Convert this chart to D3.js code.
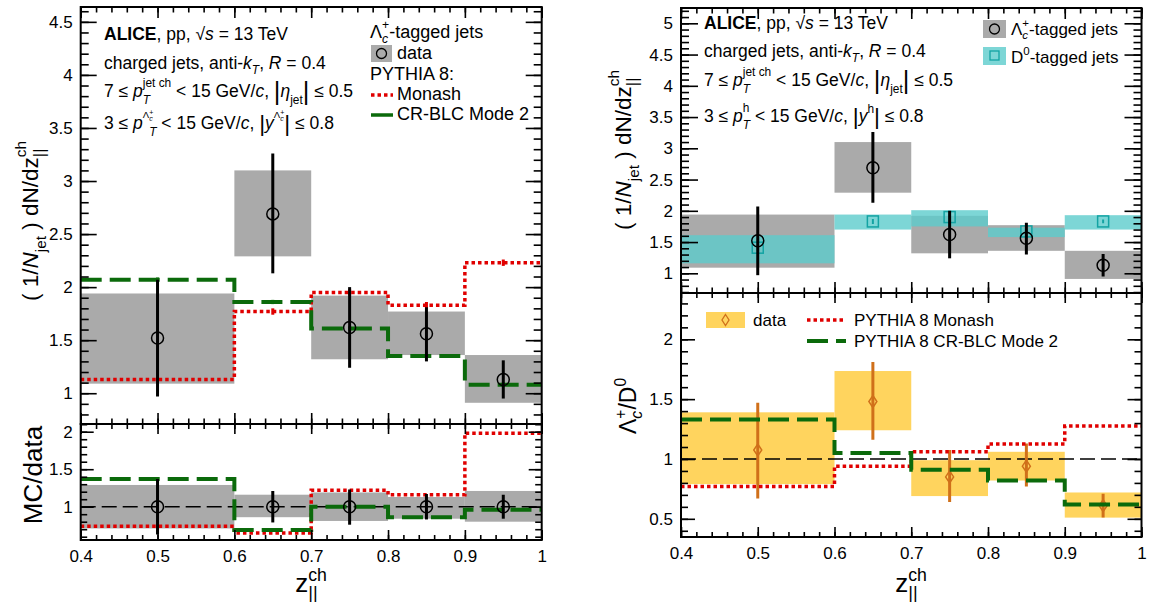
<!DOCTYPE html>
<html><head><meta charset="utf-8">
<script src="https://cdn.jsdelivr.net/npm/d3@7"></script>
<style>
body{margin:0;background:#fff;}
text{font-family:"Liberation Sans",Arial,Helvetica,sans-serif;white-space:pre;}
</style></head>
<body><svg id="c" width="1151" height="602"></svg>
<script>
// ---------------- data ----------------
const binEdges = [0.4, 0.6, 0.7, 0.8, 0.9, 1.0];
const binCenters = [0.5, 0.65, 0.75, 0.85, 0.95];
const xTicks = [0.4, 0.5, 0.6, 0.7, 0.8, 0.9, 1];

// Lambda_c-tagged jets, data
const lcVal    = [1.52, 2.69, 1.62, 1.56, 1.13];
const lcStatLo = [0.97, 2.13, 1.24, 1.30, 0.95];
const lcStatHi = [2.07, 3.26, 2.00, 1.81, 1.31];
const lcSysLo  = [1.09, 2.29, 1.32, 1.36, 0.91];
const lcSysHi  = [1.94, 3.10, 1.92, 1.77, 1.36];
// PYTHIA 8
const monash    = [1.13, 1.77, 1.95, 1.83, 2.23];
const monashErr = [0.02, 0.03, 0.03, 0.03, 0.03];
const crblc     = [2.07, 1.86, 1.61, 1.35, 1.08];
const crblcErr  = [0.02, 0.02, 0.02, 0.02, 0.02];
// MC/data
const ratioSysLo  = [0.71, 0.86, 0.81, 0.84, 0.80];
const ratioSysHi  = [1.29, 1.16, 1.19, 1.13, 1.21];
const ratioStatLo = [0.63, 0.79, 0.76, 0.83, 0.84];
const ratioStatHi = [1.37, 1.21, 1.23, 1.17, 1.16];
const monashRatio = [0.74, 0.65, 1.22, 1.16, 1.98];
const crblcRatio  = [1.37, 0.69, 1.00, 0.86, 0.96];
// D0-tagged jets
const d0Val    = [1.41, 1.83, 1.90, 1.67, 1.83];
const d0StatLo = [1.36, 1.79, 1.86, 1.63, 1.80];
const d0StatHi = [1.46, 1.87, 1.94, 1.71, 1.86];
const d0SysLo  = [1.16, 1.70, 1.75, 1.58, 1.70];
const d0SysHi  = [1.61, 1.94, 2.01, 1.73, 1.93];
// Lambda_c / D0
const lcd0Val    = [1.075, 1.48, 0.85, 0.94, 0.61];
const lcd0StatLo = [0.67, 1.16, 0.64, 0.77, 0.51];
const lcd0StatHi = [1.47, 1.81, 1.075, 1.13, 0.71];
const lcd0SysLo  = [0.79, 1.24, 0.69, 0.82, 0.51];
const lcd0SysHi  = [1.39, 1.735, 0.99, 1.06, 0.72];
const monashLcD0 = [0.77, 0.94, 1.06, 1.125, 1.275];
const crblcLcD0  = [1.33, 1.05, 0.91, 0.82, 0.62];

// tick labels
const yTicksLT = [1, 1.5, 2, 2.5, 3, 3.5, 4, 4.5];
const yTicksLB = [1, 1.5, 2];
const yTicksRT = [1, 1.5, 2, 2.5, 3, 3.5, 4, 4.5, 5];
const yTicksRB = [0.5, 1, 1.5, 2];

// ---------------- style ----------------
const C = {
  gray: "#aaaaaa", teal: "#5ccccc", tealLine: "#13a3a3",
  yellow: "#ffd45e", orange: "#d0701a", red: "#e00000", green: "#0b6a0b"
};
const svg = d3.select("#c");
svg.append("rect").attr("width",1151).attr("height",602).attr("fill","#fff");

// rich text helper
function rich(parent, x, y, segs, size, anchor, rotate) {
  const outer = parent.append("g").attr("transform", `translate(${x},${y})` + (rotate ? ` rotate(${rotate})` : ""));
  const g = outer.append("g");
  let cx = 0, prevX = 0;
  segs.forEach(sg => {
    const sc = sg.scale || ((sg.sup || sg.sub) ? 0.68 : 1);
    const s = size * sc;
    const dy = sg.sup ? -(sg.supShift || 0.45) * size : sg.sub ? (sg.subShift || 0.3) * size : (sg.dy || 0);
    const sx = sg.stack ? prevX : cx;
    const t = g.append("text").attr("x", sx + (sg.dx || 0)).attr("y", dy)
      .style("font-size", s + "px")
      .style("font-style", sg.i ? "italic" : "normal")
      .style("font-weight", sg.b ? "bold" : "normal")
      .attr("fill", "#000").text(sg.t);
    const w = t.node().getComputedTextLength() + (sg.dx || 0);
    if (sg.stack) cx = Math.max(cx, sx + w); else cx = sx + w;
    prevX = sx;
  });
  if (anchor === "middle") g.attr("transform", `translate(${-cx/2},0)`);
  return cx;
}

function panel(o) {
  const x = d3.scaleLinear().domain([0.4, 1]).range([o.x0, o.x1]);
  const y = d3.scaleLinear().domain(o.ydom).range([o.y1, o.y0]);
  const g = svg.append("g");
  const clipId = "clip" + Math.round(o.x0) + Math.round(o.y0);
  svg.append("clipPath").attr("id", clipId).append("rect")
    .attr("x", o.x0).attr("y", o.y0).attr("width", o.x1 - o.x0).attr("height", o.y1 - o.y0);
  const data = g.append("g").attr("clip-path", `url(#${clipId})`);
  const axes = g.append("g");
  const yMinor = d3.range(Math.ceil(o.ydom[0] * 10), Math.floor(o.ydom[1] * 10) + 1).map(d => d / 10);
  const xMinor = d3.range(20, 51).map(d => d / 50);
  const fmt = d3.format("~g");
  function style(sel) {
    sel.select(".domain").remove();
    sel.selectAll("line").attr("stroke", "#000").attr("stroke-width", 1.6);
    sel.selectAll("text").style("font-size", o.fs + "px").attr("fill", "#000")
      .style("font-family", '"Liberation Sans",Arial,sans-serif');
  }
  axes.append("g").attr("transform", `translate(${o.x0},0)`)
    .call(d3.axisLeft(y).tickValues(o.yTicks).tickSizeInner(-o.yl[0]).tickSizeOuter(0).tickPadding(o.ypad).tickFormat(fmt)).call(style);
  axes.append("g").attr("transform", `translate(${o.x0},0)`)
    .call(d3.axisLeft(y).tickValues(yMinor).tickSizeInner(-o.yl[1]).tickSizeOuter(0).tickFormat("")).call(style);
  axes.append("g").attr("transform", `translate(${o.x1},0)`)
    .call(d3.axisRight(y).tickValues(o.yTicks).tickSizeInner(-o.yl[0]).tickSizeOuter(0).tickFormat("")).call(style);
  axes.append("g").attr("transform", `translate(${o.x1},0)`)
    .call(d3.axisRight(y).tickValues(yMinor).tickSizeInner(-o.yl[1]).tickSizeOuter(0).tickFormat("")).call(style);
  axes.append("g").attr("transform", `translate(0,${o.y1})`)
    .call(d3.axisBottom(x).tickValues(xTicks).tickSizeInner(-o.xl[0]).tickSizeOuter(0).tickPadding(o.xpad || 9)
      .tickFormat(o.xLabels ? fmt : "")).call(style);
  axes.append("g").attr("transform", `translate(0,${o.y1})`)
    .call(d3.axisBottom(x).tickValues(xMinor).tickSizeInner(-o.xl[1]).tickSizeOuter(0).tickFormat("")).call(style);
  axes.append("g").attr("transform", `translate(0,${o.y0})`)
    .call(d3.axisTop(x).tickValues(xTicks).tickSizeInner(-o.xl[0]).tickSizeOuter(0).tickFormat("")).call(style);
  axes.append("g").attr("transform", `translate(0,${o.y0})`)
    .call(d3.axisTop(x).tickValues(xMinor).tickSizeInner(-o.xl[1]).tickSizeOuter(0).tickFormat("")).call(style);
  axes.append("rect").attr("x", o.x0).attr("y", o.y0).attr("width", o.x1 - o.x0).attr("height", o.y1 - o.y0)
    .attr("fill", "none").attr("stroke", "#000").attr("stroke-width", 2);
  return {x, y, data, g};
}

function boxes(p, lo, hi, fill, op) {
  p.data.append("g").selectAll("rect").data(lo).join("rect")
    .attr("x", (d, i) => p.x(binEdges[i])).attr("width", (d, i) => p.x(binEdges[i + 1]) - p.x(binEdges[i]))
    .attr("y", (d, i) => p.y(hi[i])).attr("height", (d, i) => p.y(lo[i]) - p.y(hi[i]))
    .attr("fill", fill).attr("opacity", op || 1);
}
function errbars(p, lo, hi, col, w) {
  p.data.append("g").selectAll("line").data(lo).join("line")
    .attr("x1", (d, i) => p.x(binCenters[i])).attr("x2", (d, i) => p.x(binCenters[i]))
    .attr("y1", (d, i) => p.y(lo[i])).attr("y2", (d, i) => p.y(hi[i]))
    .attr("stroke", col).attr("stroke-width", w);
}
function circles(p, v, col) {
  p.data.append("g").selectAll("circle").data(v).join("circle")
    .attr("cx", (d, i) => p.x(binCenters[i])).attr("cy", d => p.y(d)).attr("r", 6)
    .attr("fill", "none").attr("stroke", col).attr("stroke-width", 1.5);
}
function squares(p, v, col) {
  p.data.append("g").selectAll("rect").data(v).join("rect")
    .attr("x", (d, i) => p.x(binCenters[i]) - 5.5).attr("y", d => p.y(d) - 5.5).attr("width", 11).attr("height", 11)
    .attr("fill", "none").attr("stroke", col).attr("stroke-width", 1.5);
}
function diamonds(p, v, col) {
  p.data.append("g").selectAll("path").data(v).join("path")
    .attr("d", (d, i) => { const cx = p.x(binCenters[i]), cy = p.y(d); return `M${cx},${cy-6}L${cx+4},${cy}L${cx},${cy+6}L${cx-4},${cy}Z`; })
    .attr("fill", "none").attr("stroke", col).attr("stroke-width", 1.5);
}
function step(p, v, err, col, w, dash) {
  const pts = [];
  v.forEach((d, i) => { pts.push([binEdges[i], d]); pts.push([binEdges[i + 1], d]); });
  p.data.append("path").datum(pts)
    .attr("d", d3.line().x(d => p.x(d[0])).y(d => p.y(d[1])))
    .attr("fill", "none").attr("stroke", col).attr("stroke-width", w).attr("stroke-dasharray", dash);
  if (err) errbars(p, v.map((d, i) => d - err[i]), v.map((d, i) => d + err[i]), col, 3);
}
function unity(p) {
  p.data.append("line").attr("x1", p.x(0.4)).attr("x2", p.x(1)).attr("y1", p.y(1)).attr("y2", p.y(1))
    .attr("stroke", "#000").attr("stroke-width", 1.5).attr("stroke-dasharray", "15,6");
}

// ---------------- left top ----------------
const LT = panel({x0: 80.7, x1: 541.7, y0: 7, y1: 424, ydom: [0.71, 4.64], yTicks: yTicksLT,
  yl: [16, 8], xl: [11, 5.5], fs: 17, ypad: 8, xLabels: false});
boxes(LT, lcSysLo, lcSysHi, C.gray);
step(LT, monash, monashErr, C.red, 3.5, "3.5,3");
step(LT, crblc, crblcErr, C.green, 4, "21,8");
errbars(LT, lcStatLo, lcStatHi, "#000", 3);
circles(LT, lcVal, "#000");

// ---------------- left bottom ----------------
const LB = panel({x0: 80.7, x1: 541.7, y0: 424, y1: 540, ydom: [0.556, 2.103], yTicks: yTicksLB,
  yl: [13, 6.5], xl: [10, 5], fs: 17, ypad: 8, xLabels: true, xpad: 10});
boxes(LB, ratioSysLo, ratioSysHi, C.gray);
unity(LB);
step(LB, monashRatio, null, C.red, 3.5, "3.5,3");
step(LB, crblcRatio, null, C.green, 4, "21,8");
errbars(LB, ratioStatLo, ratioStatHi, "#000", 3);
circles(LB, lcVal.map(() => 1), "#000");

// ---------------- right top ----------------
const RT = panel({x0: 681, x1: 1141.5, y0: 8, y1: 293, ydom: [0.685, 5.245], yTicks: yTicksRT,
  yl: [17, 8], xl: [11, 5.5], fs: 17, ypad: 8, xLabels: false});
boxes(RT, lcSysLo, lcSysHi, C.gray);
boxes(RT, d0SysLo, d0SysHi, C.teal, 0.8);
errbars(RT, d0StatLo, d0StatHi, C.tealLine, 2);
squares(RT, d0Val, C.tealLine);
errbars(RT, lcStatLo, lcStatHi, "#000", 3);
circles(RT, lcVal, "#000");

// ---------------- right bottom ----------------
const RB = panel({x0: 681, x1: 1141.5, y0: 293, y1: 537, ydom: [0.348, 2.387], yTicks: yTicksRB,
  yl: [14, 7], xl: [10, 5], fs: 17, ypad: 8, xLabels: true, xpad: 10});
boxes(RB, lcd0SysLo, lcd0SysHi, C.yellow);
unity(RB);
errbars(RB, lcd0StatLo, lcd0StatHi, C.orange, 3);
diamonds(RB, lcd0Val, C.orange);
step(RB, monashLcD0, null, C.red, 3.5, "3.5,3");
step(RB, crblcLcD0, null, C.green, 4, "21,8");

// ---------------- texts ----------------
const T = svg.append("g");
const FS = 17.5;
function aliceLine(x, y) {
  rich(T, x, y, [{t: "ALICE", b: 1}, {t: ", pp, "}, {t: "√"}, {t: "s", i: 1}, {t: " = 13 TeV"}], FS);
}
function jetsLine(x, y) {
  rich(T, x, y, [{t: "charged jets, anti-"}, {t: "k", i: 1}, {t: "T", i: 1, sub: 1}, {t: ", "}, {t: "R", i: 1}, {t: " = 0.4"}], FS);
}
function ptLine(x, y) {
  rich(T, x, y, [{t: "7 ≤ "}, {t: "p", i: 1}, {t: "jet ch", sup: 1, supShift: 0.6}, {t: "T", i: 1, sub: 1, stack: 1, subShift: 0.42},
    {t: " < 15 GeV/"}, {t: "c", i: 1}, {t: ", "}, {t: "|", scale: 1.45, dy: 3}, {t: "η", i: 1}, {t: "jet", sub: 1, subShift: 0.4},
    {t: "|", scale: 1.45, dy: 3}, {t: " ≤ 0.5"}], FS);
}
aliceLine(104, 40);
jetsLine(104, 69);
ptLine(104, 97);
rich(T, 104, 129, [{t: "3 ≤ "}, {t: "p", i: 1}, {t: "Λ", sup: 1, scale: 0.55, supShift: 0.62}, {t: "c", i: 1, sup: 1, scale: 0.4, supShift: 0.45},
  {t: "+", sup: 1, scale: 0.4, supShift: 0.8, stack: 1}, {t: "T", i: 1, sub: 1, subShift: 0.42, stack: 1, dx: 0},
  {t: " < 15 GeV/"}, {t: "c", i: 1}, {t: ", "}, {t: "|", scale: 1.3, dy: 2}, {t: "y", i: 1},
  {t: "Λ", sup: 1, scale: 0.55, supShift: 0.62}, {t: "c", i: 1, sup: 1, scale: 0.4, supShift: 0.45}, {t: "+", sup: 1, scale: 0.4, supShift: 0.8, stack: 1},
  {t: "|", scale: 1.3, dy: 2}, {t: " ≤ 0.8"}], FS);

aliceLine(704, 29);
jetsLine(704, 57);
ptLine(704, 86);
rich(T, 704, 122, [{t: "3 ≤ "}, {t: "p", i: 1}, {t: "h", sup: 1, supShift: 0.55}, {t: "T", i: 1, sub: 1, subShift: 0.42, stack: 1},
  {t: " < 15 GeV/"}, {t: "c", i: 1}, {t: ", "}, {t: "|", scale: 1.3, dy: 2}, {t: "y", i: 1}, {t: "h", sup: 1, supShift: 0.5},
  {t: "|", scale: 1.3, dy: 2}, {t: " ≤ 0.8"}], FS);

// left legend
const lcTag = [{t: "Λ"}, {t: "+", sup: 1, supShift: 0.5}, {t: "c", i: 1, sub: 1, stack: 1, subShift: 0.25}, {t: "-tagged jets"}];
rich(T, 370, 38, lcTag, 18);
T.append("rect").attr("x", 371).attr("y", 45).attr("width", 21).attr("height", 17).attr("fill", C.gray);
T.append("circle").attr("cx", 381.5).attr("cy", 53.5).attr("r", 5).attr("fill", "none").attr("stroke", "#000").attr("stroke-width", 1.3);
rich(T, 397, 59, [{t: "data"}], 18);
rich(T, 370, 80, [{t: "PYTHIA 8:"}], 18);
T.append("line").attr("x1", 371).attr("x2", 393).attr("y1", 95).attr("y2", 95).attr("stroke", C.red).attr("stroke-width", 3.5).attr("stroke-dasharray", "3.5,3");
rich(T, 397, 100, [{t: "Monash"}], 18);
T.append("line").attr("x1", 371).attr("x2", 393).attr("y1", 115).attr("y2", 115).attr("stroke", C.green).attr("stroke-width", 3.5);
rich(T, 397, 120, [{t: "CR-BLC Mode 2"}], 18);

// right top legend
T.append("rect").attr("x", 983).attr("y", 20).attr("width", 23).attr("height", 18).attr("fill", C.gray);
T.append("circle").attr("cx", 994.5).attr("cy", 29).attr("r", 5).attr("fill", "none").attr("stroke", "#000").attr("stroke-width", 1.3);
rich(T, 1011, 35, lcTag, 17);
T.append("rect").attr("x", 983).attr("y", 47).attr("width", 23).attr("height", 18).attr("fill", C.teal).attr("opacity", 0.8);
T.append("rect").attr("x", 990).attr("y", 51).attr("width", 9).attr("height", 9).attr("fill", "none").attr("stroke", C.tealLine).attr("stroke-width", 1.3);
rich(T, 1011, 63, [{t: "D"}, {t: "0", sup: 1}, {t: "-tagged jets"}], 17);

// right bottom legend
T.append("rect").attr("x", 706).attr("y", 312).attr("width", 39).attr("height", 16).attr("fill", C.yellow);
T.append("path").attr("d", "M725.5,314.5L729,320L725.5,325.5L722,320Z").attr("fill", "none").attr("stroke", C.orange).attr("stroke-width", 1.3);
rich(T, 753, 326, [{t: "data"}], 17);
T.append("line").attr("x1", 807).attr("x2", 846).attr("y1", 320).attr("y2", 320).attr("stroke", C.red).attr("stroke-width", 3.5).attr("stroke-dasharray", "3.5,3");
rich(T, 854, 326, [{t: "PYTHIA 8 Monash"}], 17);
T.append("line").attr("x1", 807).attr("x2", 846).attr("y1", 341).attr("y2", 341).attr("stroke", C.green).attr("stroke-width", 4).attr("stroke-dasharray", "21,8");
rich(T, 854, 347, [{t: "PYTHIA 8 CR-BLC Mode 2"}], 17);

// axis titles
const yTitle = [{t: "( 1/"}, {t: "N", i: 1}, {t: "jet", sub: 1, subShift: 0.35}, {t: " ) dN/dz"},
  {t: "ch", sup: 1, supShift: 0.55}, {t: "||", sub: 1, stack: 1, subShift: 0.3, scale: 0.75}];
rich(T, 38, 221, yTitle, 22.5, "middle", -90);
rich(T, 631, 150, yTitle, 22.5, "middle", -90);
rich(T, 42, 475, [{t: "MC/data"}], 26, "middle", -90);
rich(T, 636, 406, [{t: "Λ"}, {t: "+", sup: 1, supShift: 0.45}, {t: "c", i: 1, sub: 1, stack: 1, subShift: 0.25}, {t: "/D"}, {t: "0", sup: 1, supShift: 0.45}], 23, "middle", -90);
const xTitle = [{t: "z"}, {t: "ch", sup: 1, supShift: 0.42}, {t: "||", sub: 1, stack: 1, subShift: 0.28, scale: 0.7}];
rich(T, 311, 592, xTitle, 26, "middle");
rich(T, 911, 592, xTitle, 26, "middle");
</script></body></html>
